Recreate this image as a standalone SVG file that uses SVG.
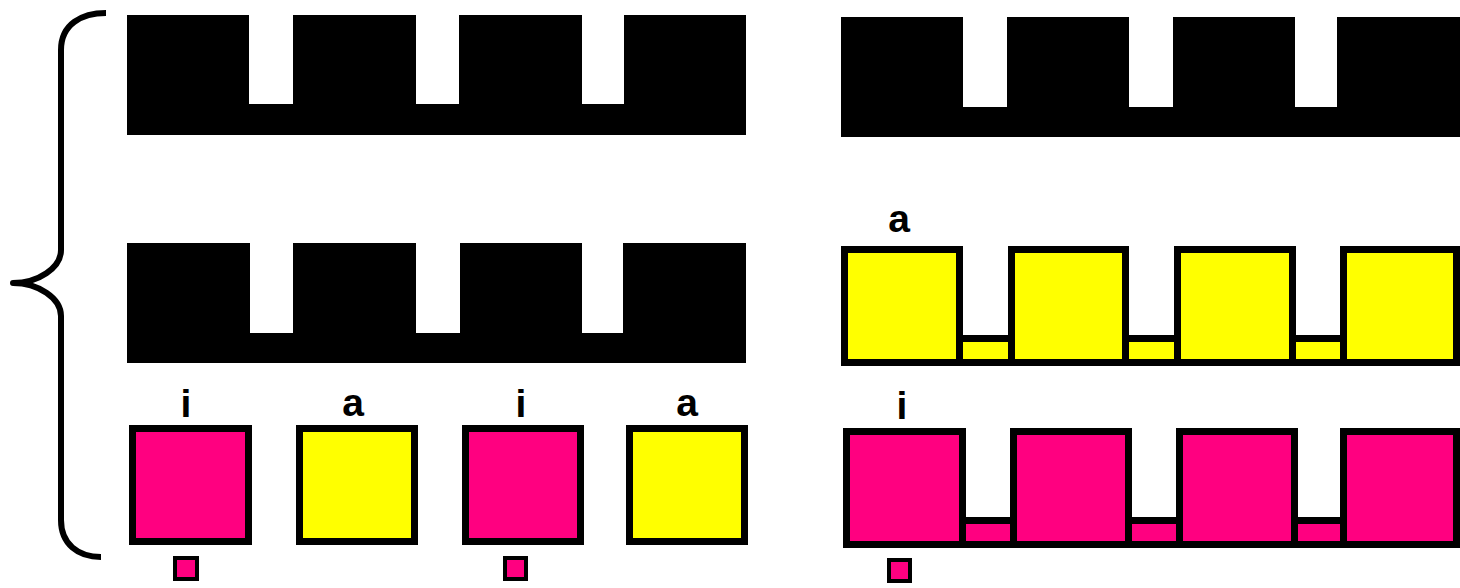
<svg xmlns="http://www.w3.org/2000/svg" width="1460" height="588" viewBox="0 0 1460 588">
  <style>
    .blk { fill: #000; }
    .pk { fill: #FF0080; }
    .yl { fill: #FFFF00; }
    .box { stroke: #000; stroke-width: 7; }
    .sm { stroke: #000; stroke-width: 4; }
    .lbl { font-family: "Liberation Sans", Arial, sans-serif; font-weight: bold; font-size: 39px; fill: #000; text-anchor: middle; }
    .brace { fill: none; stroke: #000; stroke-width: 6; stroke-linecap: butt; stroke-linejoin: round; }
  </style>
  <rect width="1460" height="588" fill="#fff"/>

  <g id="brace">
    <path class="brace" d="M106,13 C82,13 61,24 61,50 L61,250 C61,268 38,283 13,283 C38,283 61,298 61,316 L61,520 C61,544 78,557 101,557"/>
  </g>

  <g id="comb-left-top">
    <path class="blk" d="M127,15 H249 V104 H293 V15 H416 V104 H459 V15 H582 V104 H624 V15 H746 V135 H127 Z"/>
  </g>
  <g id="comb-left-bottom">
    <path class="blk" d="M127,243 H250 V333 H293 V243 H416 V333 H460 V243 H582 V333 H623 V243 H746 V363 H127 Z"/>
  </g>
  <g id="comb-right-top">
    <path class="blk" d="M841,17 H963 V107 H1007 V17 H1129 V107 H1173 V17 H1295 V107 H1337 V17 H1460 V137 H841 Z"/>
  </g>

  <g id="comb-yellow">
    <path class="blk" d="M841,246 H963 V335 H1008 V246 H1129 V335 H1174 V246 H1296 V335 H1340 V246 H1460 V366 H841 Z"/>
    <rect class="yl" x="848" y="253" width="108" height="106"/>
    <rect class="yl" x="963" y="342" width="45" height="17"/>
    <rect class="yl" x="1015" y="253" width="107" height="106"/>
    <rect class="yl" x="1129" y="342" width="45" height="17"/>
    <rect class="yl" x="1181" y="253" width="108" height="106"/>
    <rect class="yl" x="1296" y="342" width="44" height="17"/>
    <rect class="yl" x="1347" y="253" width="106" height="106"/>
    <text class="lbl" x="899" y="232">a</text>
  </g>

  <g id="comb-pink">
    <path class="blk" d="M843,428 H966 V517 H1010 V428 H1132 V517 H1176 V428 H1298 V517 H1340 V428 H1460 V548 H843 Z"/>
    <rect class="pk" x="850" y="435" width="109" height="106"/>
    <rect class="pk" x="966" y="524" width="44" height="17"/>
    <rect class="pk" x="1017" y="435" width="108" height="106"/>
    <rect class="pk" x="1132" y="524" width="44" height="17"/>
    <rect class="pk" x="1183" y="435" width="108" height="106"/>
    <rect class="pk" x="1298" y="524" width="42" height="17"/>
    <rect class="pk" x="1347" y="435" width="106" height="106"/>
    <text class="lbl" x="902" y="419">i</text>
    <rect class="pk sm" x="889" y="560" width="21" height="21"/>
  </g>

  <g id="square-1">
    <rect class="pk box" x="132.5" y="428.5" width="116" height="113"/>
    <text class="lbl" x="186" y="417">i</text>
    <rect class="pk sm" x="175" y="558" width="22" height="21"/>
  </g>
  <g id="square-2">
    <rect class="yl box" x="299.5" y="428.5" width="115" height="113"/>
    <text class="lbl" x="353" y="416">a</text>
  </g>
  <g id="square-3">
    <rect class="pk box" x="465.5" y="428.5" width="115" height="113"/>
    <text class="lbl" x="521" y="417">i</text>
    <rect class="pk sm" x="505" y="558" width="21" height="21"/>
  </g>
  <g id="square-4">
    <rect class="yl box" x="629.5" y="428.5" width="115" height="113"/>
    <text class="lbl" x="687" y="416">a</text>
  </g>

  <g id="connectors"/>
</svg>
